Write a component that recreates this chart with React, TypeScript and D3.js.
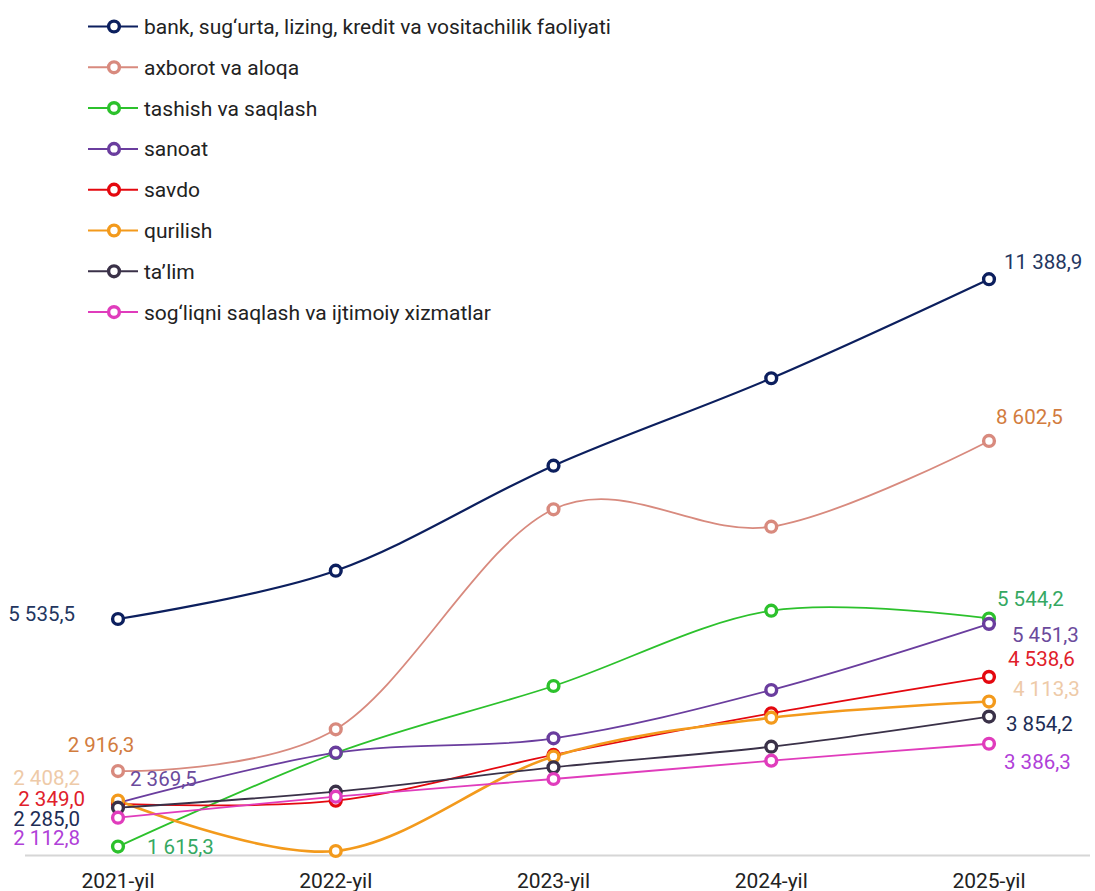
import React from "react";
import * as d3 from "d3";

const years = ["2021-yil", "2022-yil", "2023-yil", "2024-yil", "2025-yil"];

const seriesNames = [
  "bank, sug‘urta, lizing, kredit va vositachilik faoliyati",
  "axborot va aloqa",
  "tashish va saqlash",
  "sanoat",
  "savdo",
  "qurilish",
  "ta’lim",
  "sog‘liqni saqlash va ijtimoiy xizmatlar",
];

const bankValues = [5535.5, 6367, 8176, 9682, 11388.9];
const axborotValues = [2916.3, 3635, 7425, 7125, 8602.5];
const tashishValues = [1615.3, 3227, 4381, 5678, 5544.2];
const sanoatValues = [2369.5, 3232, 3480, 4312, 5451.3];
const savdoValues = [2349.0, 2405, 3193, 3911, 4538.6];
const qurilishValues = [2408.2, 1539, 3167, 3835, 4113.3];
const talimValues = [2285.0, 2560, 2981, 3336, 3854.2];
const sogliqValues = [2112.8, 2474, 2779, 3094, 3386.3];

const allValues = [
  bankValues,
  axborotValues,
  tashishValues,
  sanoatValues,
  savdoValues,
  qurilishValues,
  talimValues,
  sogliqValues,
];

const lineColors = ["#0c1f5e", "#d88a7e", "#2cc12c", "#6a3d9e", "#e4080f", "#f39a1c", "#3a3148", "#e03cbc"];
const labelColors = ["#23365f", "#d27c3e", "#35a862", "#6b4a9c", "#e0202a", "#eecaa8", "#1e2d55", "#b040d8"];
const lineWidths = [2.2, 1.8, 1.8, 1.8, 1.8, 2.6, 1.8, 1.8];

// label placement: [dx from point, dy of text centre from point, anchor]
const firstLabelPos: [number, number, string][] = [
  [-43, -5, "end"],
  [-17, -26, "middle"],
  [29, 0, "start"],
  [12, -24, "start"],
  [-33, -5.5, "end"],
  [-38, -22.5, "end"],
  [-38, 10.6, "end"],
  [-38, 20, "end"],
];
const lastLabelPos: [number, number][] = [
  [15, -17.5],
  [7, -24],
  [8, -19.3],
  [23, 11],
  [19, -18],
  [24, -12.4],
  [17, 7.6],
  [15, 18.3],
];

const FONT = "Roboto, 'Open Sans', sans-serif";

function fmt(v: number) {
  const s = v.toFixed(1).replace(".", ",");
  const [int, dec] = s.split(",");
  const withSpaces = int.replace(/\B(?=(\d{3})+(?!\d))/g, " ");
  return withSpaces + "," + dec;
}

export default function App() {
  const width = 1095;
  const height = 891;
  const x = d3.scalePoint<string>().domain(years).range([118, 989]);
  const y = d3.scaleLinear().domain([1470, 12000]).range([855, 243.7]);

  const line = d3
    .line<number>()
    .x((_, i) => x(years[i]) as number)
    .y((d) => y(d))
    .curve(d3.curveCardinal.tension(0));

  const legendY0 = 26.5;
  const legendStep = 40.8;
  const labelFont = 20.5;
  const halfDigit = 7.3;

  return (
    <svg
      width={width}
      height={height}
      style={{ position: "absolute", left: 0, top: 0, background: "#fff" }}
      fontFamily={FONT}
    >
      <rect x={0} y={0} width={width} height={height} fill="#fff" />
      {/* axis line */}
      <line x1={25} x2={1090} y1={855.5} y2={855.5} stroke="#d6d6d6" strokeWidth={2} />
      {years.map((yr) => (
        <text key={yr} x={x(yr)} y={888} textAnchor="middle" fontSize={21} fill="#222">
          {yr}
        </text>
      ))}

      {/* lines */}
      {allValues.map((vals, si) => (
        <path
          key={"l" + si}
          d={line(vals) || ""}
          fill="none"
          stroke={lineColors[si]}
          strokeWidth={lineWidths[si]}
        />
      ))}
      {/* markers */}
      {allValues.map((vals, si) => (
        <g key={"m" + si}>
          {vals.map((v, i) => (
            <circle
              key={i}
              cx={x(years[i])}
              cy={y(v)}
              r={5.4}
              fill="#fff"
              stroke={lineColors[si]}
              strokeWidth={3.4}
            />
          ))}
        </g>
      ))}

      {/* value labels */}
      {allValues.map((vals, si) => {
        const f = firstLabelPos[si];
        const l = lastLabelPos[si];
        const x0 = x(years[0]) as number;
        const x4 = x(years[4]) as number;
        return (
          <g key={"v" + si} fontSize={labelFont}>
            <text
              x={x0 + f[0]}
              y={y(vals[0]) + f[1] + halfDigit}
              textAnchor={f[2] as any}
              fill={labelColors[si]}
            >
              {fmt(vals[0])}
            </text>
            <text x={x4 + l[0]} y={y(vals[4]) + l[1] + halfDigit} fill={labelColors[si]}>
              {fmt(vals[4])}
            </text>
          </g>
        );
      })}

      {/* legend */}
      {seriesNames.map((name, si) => {
        const ly = legendY0 + si * legendStep;
        return (
          <g key={"lg" + si}>
            <line x1={88} x2={138} y1={ly} y2={ly} stroke={lineColors[si]} strokeWidth={2} />
            <circle cx={114} cy={ly} r={5.4} fill="#fff" stroke={lineColors[si]} strokeWidth={3.4} />
            <text x={144} y={ly + 7.5} fontSize={21} fill="#222">
              {name}
            </text>
          </g>
        );
      })}
    </svg>
  );
}
